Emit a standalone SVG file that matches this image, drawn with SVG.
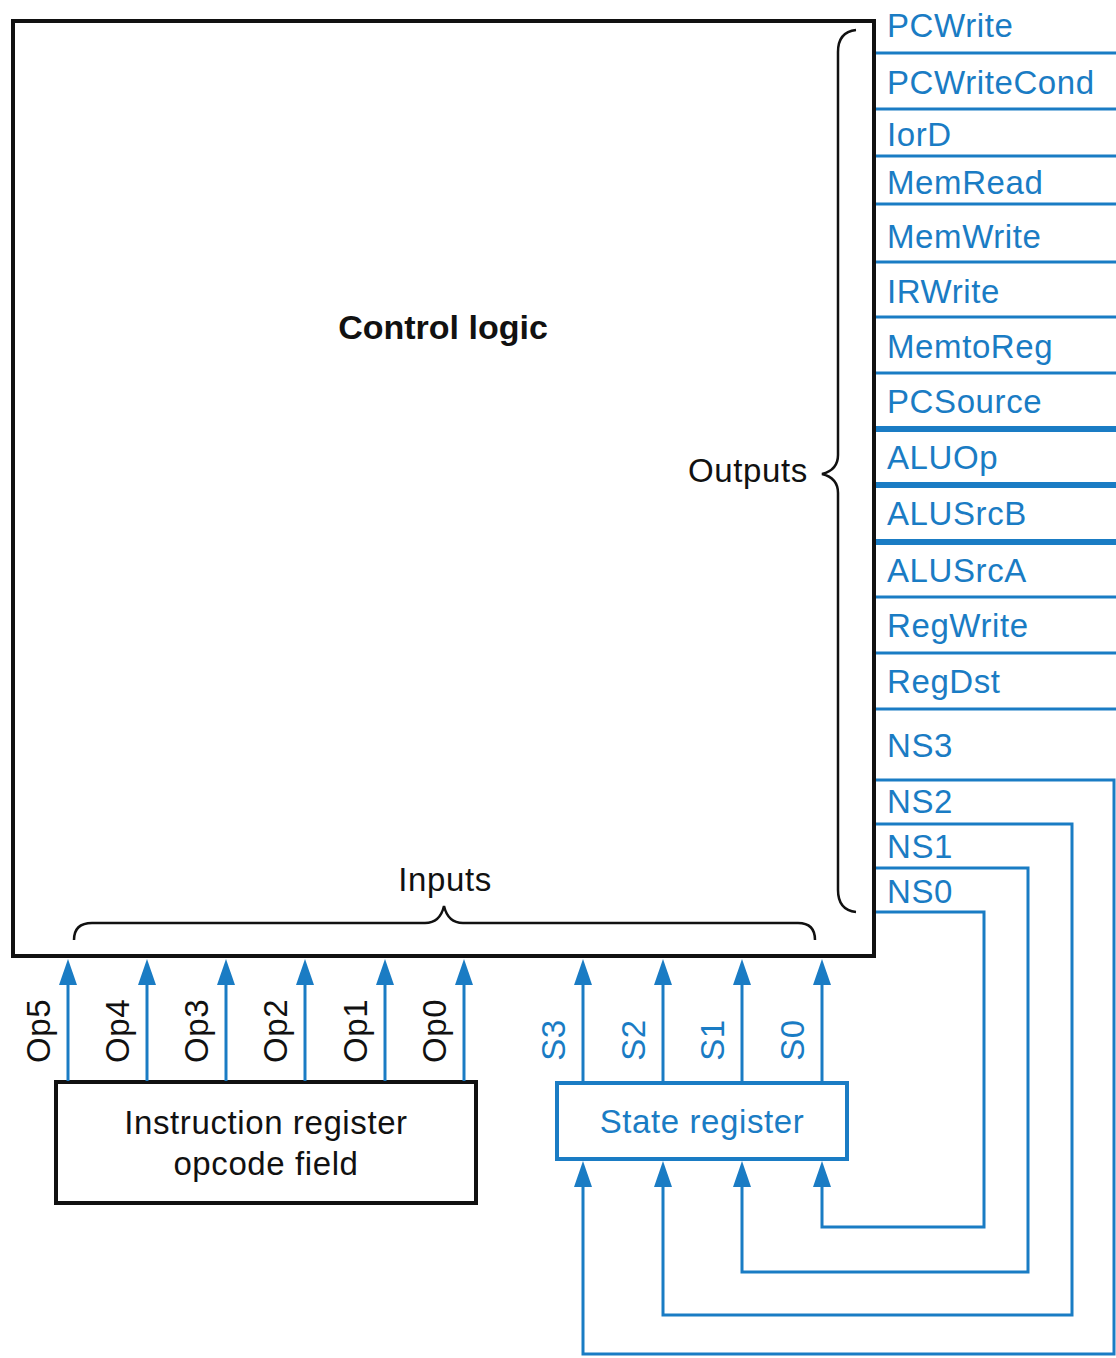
<svg xmlns="http://www.w3.org/2000/svg" width="1116" height="1358" viewBox="0 0 1116 1358">
<style>
.blk{font-family:"Liberation Sans",Arial,sans-serif;font-size:33px;fill:#111;letter-spacing:0.6px}
.blu{font-family:"Liberation Sans",Arial,sans-serif;font-size:33px;fill:#1a7cc4;letter-spacing:0.6px}
.bold{font-family:"Liberation Sans",Arial,sans-serif;font-size:34px;font-weight:bold;fill:#111}
.bl{stroke:#1a7cc4;stroke-width:3;fill:none}
.blt{stroke:#1a7cc4;stroke-width:6;fill:none}
.brace{stroke:#111;stroke-width:2.5;fill:none}
</style>
<defs>
<marker id="ah" viewBox="0 0 26 18" refX="16" refY="9" markerWidth="26" markerHeight="18" markerUnits="userSpaceOnUse" orient="auto">
<path d="M0,0 L26,9 L0,18 z" fill="#1a7cc4"/>
</marker>
</defs>
<rect width="1116" height="1358" fill="#fff"/>

<g id="control-logic">
<rect x="13" y="21" width="861" height="935" fill="#fff" stroke="#111" stroke-width="4"/>
<text class="bold" x="443" y="339" text-anchor="middle">Control logic</text>
<path class="brace" d="M856,30 Q838,32 838,52 L838,455 Q838,470 822,474 Q838,478 838,493 L838,890 Q838,910 856,912"/>
<text class="blk" x="688" y="482">Outputs</text>
<path class="brace" d="M74,940 Q74,923 92,923 L425,923 Q440,923 444,906 Q448,923 463,923 L798,923 Q815,923 815,940"/>
<text class="blk" x="445" y="891" text-anchor="middle">Inputs</text>
</g>

<g id="instruction-register">
<rect x="56" y="1082" width="420" height="121" fill="#fff" stroke="#111" stroke-width="4"/>
<text class="blk" x="266" y="1134" text-anchor="middle">Instruction register</text>
<text class="blk" x="266" y="1175" text-anchor="middle">opcode field</text>
</g>

<g id="state-register">
<rect x="557" y="1083" width="290" height="76" fill="#fff" stroke="#1a7cc4" stroke-width="4"/>
<text class="blu" x="702" y="1133" text-anchor="middle">State register</text>
</g>

<g id="output-labels">
<text class="blu" x="887" y="37">PCWrite</text>
<text class="blu" x="887" y="94">PCWriteCond</text>
<text class="blu" x="887" y="146">IorD</text>
<text class="blu" x="887" y="194">MemRead</text>
<text class="blu" x="887" y="248">MemWrite</text>
<text class="blu" x="887" y="303">IRWrite</text>
<text class="blu" x="887" y="358">MemtoReg</text>
<text class="blu" x="887" y="413">PCSource</text>
<text class="blu" x="887" y="469">ALUOp</text>
<text class="blu" x="887" y="525">ALUSrcB</text>
<text class="blu" x="887" y="582">ALUSrcA</text>
<text class="blu" x="887" y="637">RegWrite</text>
<text class="blu" x="887" y="693">RegDst</text>
<text class="blu" x="887" y="757">NS3</text>
<text class="blu" x="887" y="813">NS2</text>
<text class="blu" x="887" y="858">NS1</text>
<text class="blu" x="887" y="903">NS0</text>
</g>

<g id="input-labels">
<text class="blk" transform="translate(50,1031) rotate(-90)" text-anchor="middle">Op5</text>
<text class="blk" transform="translate(129,1031) rotate(-90)" text-anchor="middle">Op4</text>
<text class="blk" transform="translate(208,1031) rotate(-90)" text-anchor="middle">Op3</text>
<text class="blk" transform="translate(287,1031) rotate(-90)" text-anchor="middle">Op2</text>
<text class="blk" transform="translate(367,1031) rotate(-90)" text-anchor="middle">Op1</text>
<text class="blk" transform="translate(446,1031) rotate(-90)" text-anchor="middle">Op0</text>
<text class="blu" transform="translate(565,1040) rotate(-90)" text-anchor="middle">S3</text>
<text class="blu" transform="translate(645,1040) rotate(-90)" text-anchor="middle">S2</text>
<text class="blu" transform="translate(724,1040) rotate(-90)" text-anchor="middle">S1</text>
<text class="blu" transform="translate(804,1040) rotate(-90)" text-anchor="middle">S0</text>
</g>

<g id="connectors">
<line class="bl" x1="876" y1="53" x2="1116" y2="53"/>
<line class="bl" x1="876" y1="109" x2="1116" y2="109"/>
<line class="bl" x1="876" y1="156" x2="1116" y2="156"/>
<line class="bl" x1="876" y1="204" x2="1116" y2="204"/>
<line class="bl" x1="876" y1="262" x2="1116" y2="262"/>
<line class="bl" x1="876" y1="317" x2="1116" y2="317"/>
<line class="bl" x1="876" y1="373" x2="1116" y2="373"/>
<line class="blt" x1="876" y1="429" x2="1116" y2="429"/>
<line class="blt" x1="876" y1="485" x2="1116" y2="485"/>
<line class="blt" x1="876" y1="542" x2="1116" y2="542"/>
<line class="bl" x1="876" y1="597" x2="1116" y2="597"/>
<line class="bl" x1="876" y1="653" x2="1116" y2="653"/>
<line class="bl" x1="876" y1="709" x2="1116" y2="709"/>

<path class="bl" d="M876,780 L1114,780 L1114,1354 L583,1354 L583,1171" marker-end="url(#ah)"/>
<path class="bl" d="M876,824 L1072,824 L1072,1315 L663,1315 L663,1171" marker-end="url(#ah)"/>
<path class="bl" d="M876,868 L1028,868 L1028,1272 L742,1272 L742,1171" marker-end="url(#ah)"/>
<path class="bl" d="M876,912 L984,912 L984,1227 L822,1227 L822,1171" marker-end="url(#ah)"/>

<line class="bl" x1="68" y1="1081" x2="68" y2="969" marker-end="url(#ah)"/>
<line class="bl" x1="147" y1="1081" x2="147" y2="969" marker-end="url(#ah)"/>
<line class="bl" x1="226" y1="1081" x2="226" y2="969" marker-end="url(#ah)"/>
<line class="bl" x1="305" y1="1081" x2="305" y2="969" marker-end="url(#ah)"/>
<line class="bl" x1="385" y1="1081" x2="385" y2="969" marker-end="url(#ah)"/>
<line class="bl" x1="464" y1="1081" x2="464" y2="969" marker-end="url(#ah)"/>

<line class="bl" x1="583" y1="1082" x2="583" y2="969" marker-end="url(#ah)"/>
<line class="bl" x1="663" y1="1082" x2="663" y2="969" marker-end="url(#ah)"/>
<line class="bl" x1="742" y1="1082" x2="742" y2="969" marker-end="url(#ah)"/>
<line class="bl" x1="822" y1="1082" x2="822" y2="969" marker-end="url(#ah)"/>
</g>
</svg>
